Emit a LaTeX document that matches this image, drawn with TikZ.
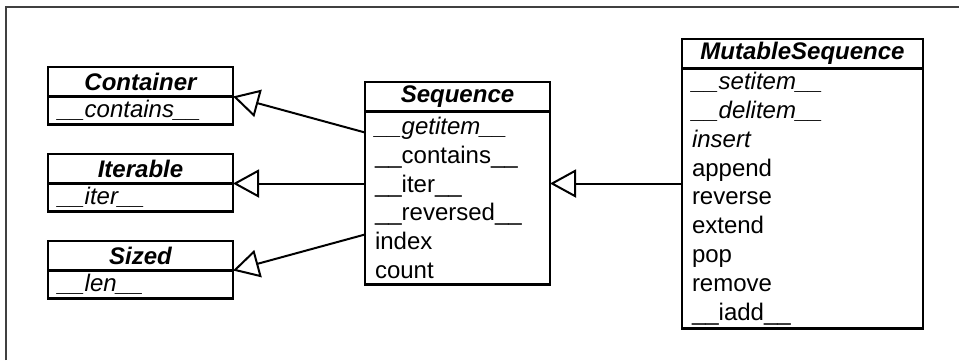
\documentclass[tikz,border=0pt]{standalone}
\usepackage{fontspec}
\setmainfont{Liberation Sans}
\usetikzlibrary{arrows.meta,positioning}

\begin{document}
\begin{tikzpicture}[x=1pt,y=-1pt,
    klass/.style={draw,line width=2.2pt,outer sep=0pt,inner sep=0pt,minimum height=29.5pt,
      font=\fontsize{24}{28.8}\selectfont\bfseries\itshape},
    members/.style={draw,line width=2.2pt,outer sep=0pt,inner xsep=10pt,inner ysep=0pt,align=left,
      font=\fontsize{24}{28.8}\selectfont},
    isa/.style={line width=2pt,-{Triangle[open,length=26pt,width=28pt]}}]
  \useasboundingbox (0,0) rectangle (959,360);
  \draw[black!75,line width=1.5pt] (6,360) -- (6,7) -- (959,7);

  \node[klass,minimum width=185pt,anchor=north] (container) at (140.5,67) {Container};
  \node[members,text width=165pt,minimum height=28pt,below=0pt of container] (containerb) {\textit{\_\_contains\_\_}};
  \node[klass,minimum width=185pt,anchor=north] (iterable) at (140.5,154) {Iterable};
  \node[members,text width=165pt,minimum height=28pt,below=0pt of iterable] (iterableb) {\textit{\_\_iter\_\_}};
  \node[klass,minimum width=185pt,anchor=north] (sized) at (140.5,241) {Sized};
  \node[members,text width=165pt,minimum height=28pt,below=0pt of sized] (sizedb) {\textit{\_\_len\_\_}};

  \node[klass,minimum width=185pt,anchor=north] (sequence) at (457.5,82) {Sequence};
  \node[members,text width=165pt,minimum height=173pt,below=0pt of sequence] (sequenceb)
    {\textit{\_\_getitem\_\_}\\ \_\_contains\_\_\\ \_\_iter\_\_\\ \_\_reversed\_\_\\ index\\ count};

  \node[klass,minimum width=241pt,anchor=north] (mutable) at (802.5,39) {MutableSequence};
  \node[members,text width=221pt,minimum height=260pt,below=0pt of mutable] (mutableb)
    {\textit{\_\_setitem\_\_}\\ \textit{\_\_delitem\_\_}\\ \textit{insert}\\ append\\ reverse\\ extend\\ pop\\ remove\\ \_\_iadd\_\_};

  \draw[isa] ([yshift=-21pt]sequenceb.north west) -- (container.south east);
  \draw[isa] (iterable.south east -| sequenceb.west) -- (iterable.south east);
  \draw[isa] ([yshift=-123pt]sequenceb.north west) -- (sized.south east);
  \draw[isa] (mutableb.west |- iterable.south) -- (sequenceb.east |- iterable.south);
\end{tikzpicture}
\end{document}
